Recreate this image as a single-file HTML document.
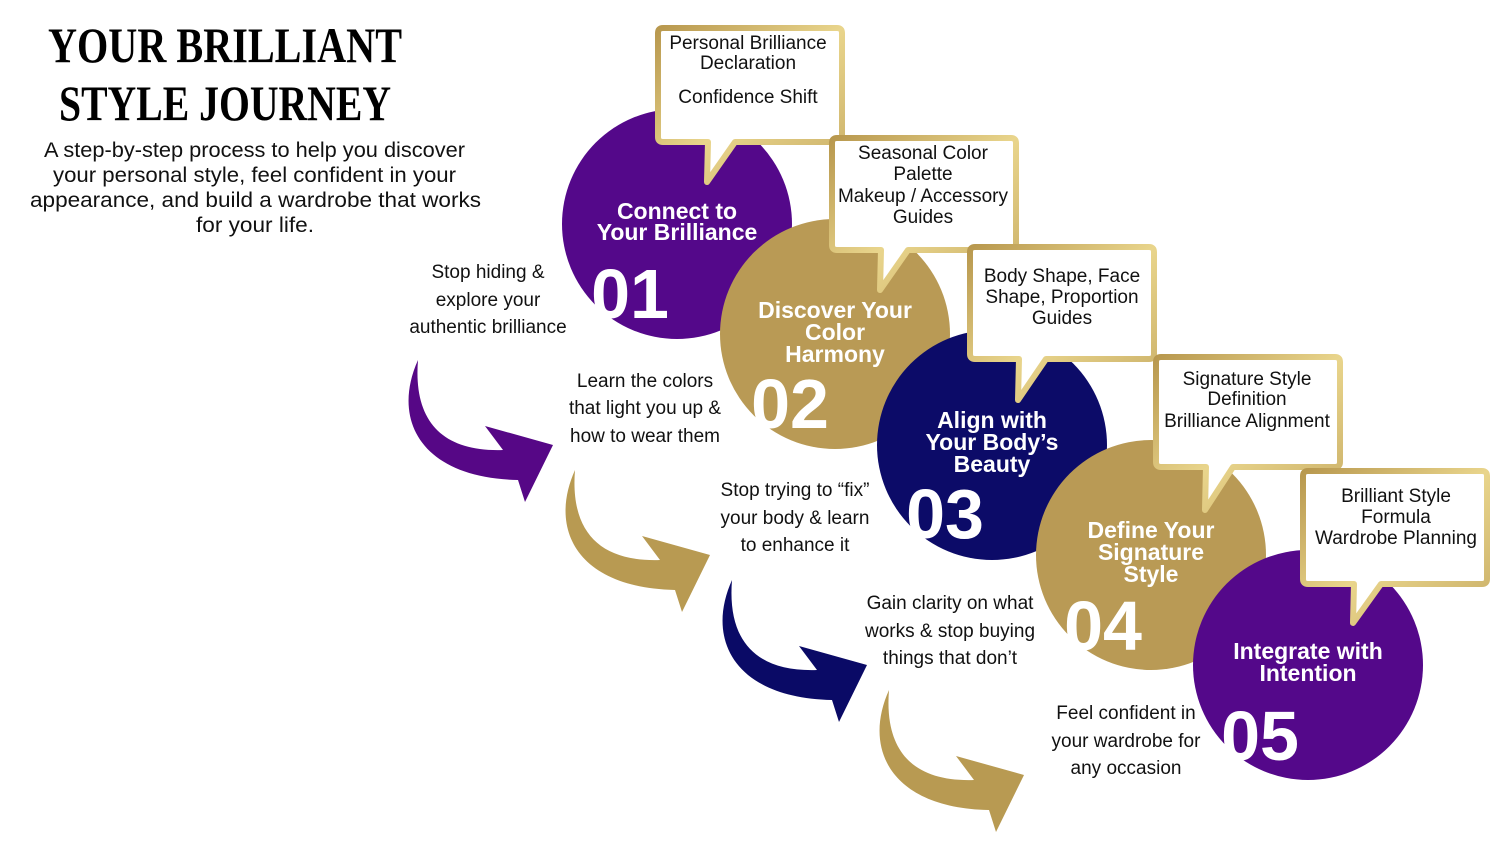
<!DOCTYPE html>
<html><head><meta charset="utf-8"><style>
html,body{margin:0;padding:0;background:#fff;}
svg{display:block;}
.t{font-family:"Liberation Sans",sans-serif;fill:#111;}
.c{font-family:"Liberation Sans",sans-serif;font-weight:bold;fill:#fff;text-anchor:middle;font-size:23px;}
.n{font-family:"Liberation Sans",sans-serif;font-weight:900;fill:#fff;text-anchor:middle;font-size:70px;}
.b{font-family:"Liberation Sans",sans-serif;fill:#111;text-anchor:middle;font-size:19px;}
.s{font-family:"Liberation Sans",sans-serif;fill:#111;text-anchor:middle;font-size:19px;}
</style></head><body>
<svg width="1500" height="844" viewBox="0 0 1500 844" xmlns="http://www.w3.org/2000/svg">
<defs>
<linearGradient id="g" x1="0" y1="0" x2="1" y2="1">
<stop offset="0" stop-color="#B8984E"/><stop offset="0.5" stop-color="#E9D58C"/><stop offset="1" stop-color="#C9AE66"/>
</linearGradient>
<path id="arr" d="M25,10 C-2,70 28,128 125,130 L132,152 L160,95 L92,76 L110,100 C50,102 20,72 25,10Z"/>
</defs>

<text x="48" y="62" font-family="Liberation Serif,serif" font-weight="bold" font-size="50" textLength="354" lengthAdjust="spacingAndGlyphs">YOUR BRILLIANT</text>
<text x="59" y="120" font-family="Liberation Serif,serif" font-weight="bold" font-size="50" textLength="332" lengthAdjust="spacingAndGlyphs">STYLE JOURNEY</text>
<g class="t" font-size="21">
<text x="44" y="157" textLength="421" lengthAdjust="spacingAndGlyphs">A step-by-step process to help you discover</text>
<text x="53" y="182" textLength="403" lengthAdjust="spacingAndGlyphs">your personal style, feel confident in your</text>
<text x="30" y="207" textLength="451" lengthAdjust="spacingAndGlyphs">appearance, and build a wardrobe that works</text>
<text x="196" y="232" textLength="118" lengthAdjust="spacingAndGlyphs">for your life.</text>
</g>

<use href="#arr" x="393" y="350" fill="#560786"/>
<use href="#arr" x="550" y="460" fill="#B89A52"/>
<use href="#arr" x="707" y="570" fill="#0A0A66"/>
<use href="#arr" x="864" y="680" fill="#B89A52"/>

<g class="s">
<text x="488" y="278">Stop hiding &amp;</text><text x="488" y="306">explore your</text><text x="488" y="333">authentic brilliance</text>
<text x="645" y="387">Learn the colors</text><text x="645" y="414">that light you up &amp;</text><text x="645" y="442">how to wear them</text>
<text x="795" y="496">Stop trying to “fix”</text><text x="795" y="524">your body &amp; learn</text><text x="795" y="551">to enhance it</text>
<text x="950" y="609">Gain clarity on what</text><text x="950" y="637">works &amp; stop buying</text><text x="950" y="664">things that don’t</text>
<text x="1126" y="719">Feel confident in</text><text x="1126" y="747">your wardrobe for</text><text x="1126" y="774">any occasion</text>
</g>

<circle cx="677" cy="224" r="115" fill="#54088A"/>
<text class="c" x="677" y="219">Connect to</text><text class="c" x="677" y="240">Your Brilliance</text>
<text class="n" x="630" y="318">01</text>
<path d="M663,28 H837 Q842,28 842,33 V137 Q842,142 837,142 H735 L707,182 L708,142 H663 Q658,142 658,137 V33 Q658,28 663,28Z" fill="#fff" stroke="url(#g)" stroke-width="6" stroke-linejoin="round"/>
<text class="b" x="748" y="49">Personal Brilliance</text><text class="b" x="748" y="69">Declaration</text><text class="b" x="748" y="103">Confidence Shift</text>

<circle cx="835" cy="334" r="115" fill="#B99A55"/>
<text class="c" x="835" y="318">Discover Your</text><text class="c" x="835" y="340">Color</text><text class="c" x="835" y="362">Harmony</text>
<text class="n" x="790" y="428">02</text>
<path d="M837,138 H1011 Q1016,138 1016,143 V245 Q1016,250 1011,250 H908 L880,290 L881,250 H837 Q832,250 832,245 V143 Q832,138 837,138Z" fill="#fff" stroke="url(#g)" stroke-width="6" stroke-linejoin="round"/>
<text class="b" x="923" y="159">Seasonal Color</text><text class="b" x="923" y="180">Palette</text><text class="b" x="923" y="202">Makeup / Accessory</text><text class="b" x="923" y="223">Guides</text>

<circle cx="992" cy="445" r="115" fill="#0C0B68"/>
<text class="c" x="992" y="428">Align with</text><text class="c" x="992" y="450">Your Body’s</text><text class="c" x="992" y="472">Beauty</text>
<text class="n" x="945" y="538">03</text>
<path d="M975,247 H1149 Q1154,247 1154,252 V354 Q1154,359 1149,359 H1046 L1018,400 L1019,359 H975 Q970,359 970,354 V252 Q970,247 975,247Z" fill="#fff" stroke="url(#g)" stroke-width="6" stroke-linejoin="round"/>
<text class="b" x="1062" y="282">Body Shape, Face</text><text class="b" x="1062" y="303">Shape, Proportion</text><text class="b" x="1062" y="324">Guides</text>

<circle cx="1151" cy="555" r="115" fill="#B99A55"/>
<text class="c" x="1151" y="538">Define Your</text><text class="c" x="1151" y="560">Signature</text><text class="c" x="1151" y="582">Style</text>
<text class="n" x="1103" y="650">04</text>
<path d="M1161,357 H1335 Q1340,357 1340,362 V462 Q1340,467 1335,467 H1233 L1205,510 L1206,467 H1161 Q1156,467 1156,462 V362 Q1156,357 1161,357Z" fill="#fff" stroke="url(#g)" stroke-width="6" stroke-linejoin="round"/>
<text class="b" x="1247" y="385">Signature Style</text><text class="b" x="1247" y="405">Definition</text><text class="b" x="1247" y="427">Brilliance Alignment</text>

<circle cx="1308" cy="665" r="115" fill="#54088A"/>
<text class="c" x="1308" y="659">Integrate with</text><text class="c" x="1308" y="681">Intention</text>
<text class="n" x="1260" y="760">05</text>
<path d="M1308,471 H1482 Q1487,471 1487,476 V579 Q1487,584 1482,584 H1381 L1353,623 L1354,584 H1308 Q1303,584 1303,579 V476 Q1303,471 1308,471Z" fill="#fff" stroke="url(#g)" stroke-width="6" stroke-linejoin="round"/>
<text class="b" x="1396" y="502">Brilliant Style</text><text class="b" x="1396" y="523">Formula</text><text class="b" x="1396" y="544">Wardrobe Planning</text>
</svg>
</body></html>
